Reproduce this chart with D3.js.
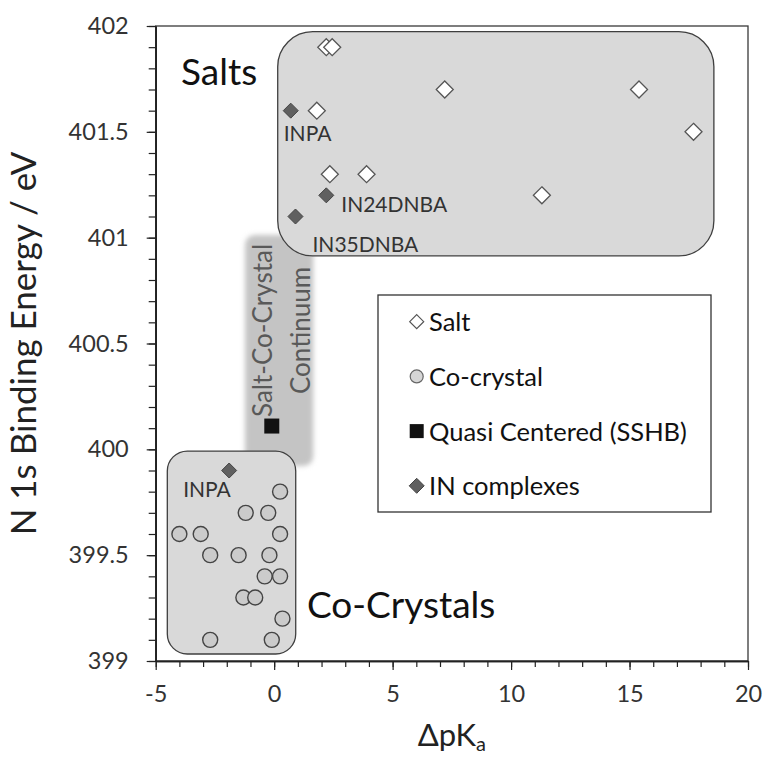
<!DOCTYPE html>
<html>
<head>
<meta charset="utf-8">
<script src="https://cdn.jsdelivr.net/npm/d3@7"></script>
<style>
  html, body { margin: 0; padding: 0; background: #fff; }
  svg { display: block; font-family: Lato, "Open Sans", sans-serif; }
</style>
</head>
<body>
<svg id="chart" width="764" height="758"></svg>
<script>
// ΔpKa vs N 1s binding energy
const saltX = [2.2, 2.45, 1.8, 7.2, 15.4, 17.7, 2.35, 3.9, 11.3];
const saltY = [401.9, 401.9, 401.6, 401.7, 401.7, 401.5, 401.3, 401.3, 401.2];

const coX = [0.25, -1.2, -0.25, -4.0, -3.1, 0.25, -2.7, -1.5, -0.2, -0.4, 0.25, -1.3, -0.8, 0.35, -2.7, -0.1];
const coY = [399.8, 399.7, 399.7, 399.6, 399.6, 399.6, 399.5, 399.5, 399.5, 399.4, 399.4, 399.3, 399.3, 399.2, 399.1, 399.1];

const sshbX = [-0.1];
const sshbY = [400.11];

const inX = [0.7, 2.2, 0.9, -1.9];
const inY = [401.6, 401.2, 401.1, 399.9];
const inLabels = ["INPA", "IN24DNBA", "IN35DNBA", "INPA"];

const xTicks = [-5, 0, 5, 10, 15, 20];
const yTicks = [399, 399.5, 400, 400.5, 401, 401.5, 402];
const legendLabels = ["Salt", "Co-crystal", "Quasi Centered (SSHB)", "IN complexes"];

// shaded regions, in data units: [x0, x1, yLow, yHigh]
const saltRegion = [0.15, 18.56, 400.914, 401.973];
const coRegion = [-4.51, 0.91, 399.033, 399.992];
const continuumRegion = [-1.23, 1.65, 399.921, 401.013];

// label placement relative to each IN point (pixels)
const inLabelOffsets = [[-7, 30], [15, 17], [17, 35], [-46, 26]];

const svg = d3.select("#chart");
const x = d3.scaleLinear().domain([-5, 20]).range([155.7, 748]);
const y = d3.scaleLinear().domain([399, 402]).range([661, 26]);

const defs = svg.append("defs");
defs.append("filter").attr("id", "soft")
  .attr("x", "-20%").attr("y", "-20%").attr("width", "140%").attr("height", "140%")
  .append("feGaussianBlur").attr("stdDeviation", 2.6);

// plot frame
svg.append("rect")
  .attr("x", x(-5)).attr("y", y(402))
  .attr("width", x(20) - x(-5)).attr("height", y(399) - y(402))
  .attr("fill", "none").attr("stroke", "#3a3a3a").attr("stroke-width", 1.3);

// regions
function regionRect(r, radius) {
  return svg.append("rect")
    .attr("x", x(r[0])).attr("y", y(r[3]))
    .attr("width", x(r[1]) - x(r[0])).attr("height", y(r[2]) - y(r[3]))
    .attr("rx", radius).attr("ry", radius);
}

regionRect(continuumRegion, 10)
  .attr("fill", "#c4c4c4").attr("filter", "url(#soft)");

const contText = svg.append("g").attr("fill", "#595959").attr("font-size", 26);
const contCy = (y(continuumRegion[2]) + y(continuumRegion[3])) / 2 - 20;
contText.append("text")
  .attr("transform", `translate(${x(-0.08)},${contCy}) rotate(-90)`)
  .attr("text-anchor", "middle").text("Salt-Co-Crystal");
contText.append("text")
  .attr("transform", `translate(${x(1.5)},${contCy}) rotate(-90)`)
  .attr("text-anchor", "middle").text("Continuum");

regionRect(saltRegion, 35)
  .attr("fill", "#d9d9d9").attr("stroke", "#3f3f3f").attr("stroke-width", 1.3);
regionRect(coRegion, 20)
  .attr("fill", "#d9d9d9").attr("stroke", "#3f3f3f").attr("stroke-width", 1.3);

// axes
const yMinor = d3.range(399, 402.001, 0.1).map(v => +v.toFixed(1));
const xMinor = d3.range(-5, 20.001, 1);
const plainFormat = d => String(d);

const yAxisMinor = svg.append("g").attr("transform", `translate(${x(-5)},0)`)
  .call(d3.axisLeft(y).tickValues(yMinor).tickSize(7).tickFormat("").tickSizeOuter(0));
const yAxis = svg.append("g").attr("transform", `translate(${x(-5)},0)`)
  .call(d3.axisLeft(y).tickValues(yTicks).tickSize(9).tickPadding(18).tickSizeOuter(0)
    .tickFormat(plainFormat));
const xAxisMinor = svg.append("g").attr("transform", `translate(0,${y(399)})`)
  .call(d3.axisBottom(x).tickValues(xMinor).tickSize(6).tickFormat("").tickSizeOuter(0));
const xAxis = svg.append("g").attr("transform", `translate(0,${y(399)})`)
  .call(d3.axisBottom(x).tickValues(xTicks).tickSize(9).tickPadding(15).tickSizeOuter(0)
    .tickFormat(plainFormat));

[yAxisMinor, yAxis, xAxisMinor, xAxis].forEach(g => {
  g.select(".domain").attr("stroke", "#222").attr("stroke-width", 1.5);
  g.selectAll(".tick line").attr("stroke", "#222").attr("stroke-width", 1.2);
  g.selectAll(".tick text").attr("fill", "#333").attr("font-size", 23.5)
    .attr("font-family", "Lato, sans-serif");
});

// axis titles
svg.append("text")
  .attr("transform", `translate(36,${(y(399) + y(402)) / 2}) rotate(-90)`)
  .attr("text-anchor", "middle").attr("font-size", 35).attr("fill", "#222")
  .text("N 1s Binding Energy / eV");

const xt = svg.append("text")
  .attr("x", (x(-5) + x(20)) / 2).attr("y", 746)
  .attr("text-anchor", "middle").attr("font-size", 31).attr("fill", "#222");
xt.append("tspan").text("ΔpK");
xt.append("tspan").attr("font-size", 20).attr("dy", 5).text("a");

// region captions
svg.append("text").attr("x", 181).attr("y", 85)
  .attr("font-size", 37).attr("fill", "#111").text("Salts");
svg.append("text").attr("x", 307).attr("y", 618)
  .attr("font-size", 37).attr("fill", "#111").text("Co-Crystals");

// markers
function diamondPath(half) {
  return `M0,${-half}L${half},0L0,${half}L${-half},0Z`;
}

svg.append("g").selectAll("path").data(saltX.map((v, i) => [v, saltY[i]]))
  .join("path")
  .attr("transform", d => `translate(${x(d[0])},${y(d[1])})`)
  .attr("d", diamondPath(8.5))
  .attr("fill", "#fff").attr("stroke", "#555").attr("stroke-width", 1.3);

svg.append("g").selectAll("circle").data(coX.map((v, i) => [v, coY[i]]))
  .join("circle")
  .attr("cx", d => x(d[0])).attr("cy", d => y(d[1])).attr("r", 7.5)
  .attr("fill", "#cbcbcb").attr("stroke", "#444").attr("stroke-width", 1.4);

svg.append("g").selectAll("rect").data(sshbX.map((v, i) => [v, sshbY[i]]))
  .join("rect")
  .attr("x", d => x(d[0]) - 7.5).attr("y", d => y(d[1]) - 7.5)
  .attr("width", 15).attr("height", 15).attr("fill", "#111");

const inPts = inX.map((v, i) => [v, inY[i], inLabels[i], inLabelOffsets[i]]);
svg.append("g").selectAll("path").data(inPts)
  .join("path")
  .attr("transform", d => `translate(${x(d[0])},${y(d[1])})`)
  .attr("d", diamondPath(7.5))
  .attr("fill", "#606060").attr("stroke", "#444").attr("stroke-width", 1);

svg.append("g").selectAll("text").data(inPts)
  .join("text")
  .attr("x", d => x(d[0]) + d[3][0]).attr("y", d => y(d[1]) + d[3][1])
  .attr("font-size", 21).attr("fill", "#333")
  .text(d => d[2]);

// legend
const lg = svg.append("g");
lg.append("rect").attr("x", 378).attr("y", 295).attr("width", 333).attr("height", 217)
  .attr("fill", "#fff").attr("stroke", "#333").attr("stroke-width", 1.3);
const rowY = i => 321.7 + i * 54.7;
const symX = 416.7;
lg.append("path").attr("transform", `translate(${symX},${rowY(0)})`)
  .attr("d", diamondPath(7)).attr("fill", "#fff").attr("stroke", "#555").attr("stroke-width", 1.2);
lg.append("circle").attr("cx", symX).attr("cy", rowY(1)).attr("r", 6.5)
  .attr("fill", "#d6d6d6").attr("stroke", "#666").attr("stroke-width", 1.2);
lg.append("rect").attr("x", symX - 7).attr("y", rowY(2) - 7).attr("width", 14).attr("height", 14)
  .attr("fill", "#111");
lg.append("path").attr("transform", `translate(${symX},${rowY(3)})`)
  .attr("d", diamondPath(7.5)).attr("fill", "#606060").attr("stroke", "#444").attr("stroke-width", 1);
lg.selectAll("text.lbl").data(legendLabels).join("text").attr("class", "lbl")
  .attr("x", 429).attr("y", (d, i) => rowY(i) + 9.5)
  .attr("font-size", 25.5).attr("fill", "#111")
  .text(d => d);
</script>
</body>
</html>
